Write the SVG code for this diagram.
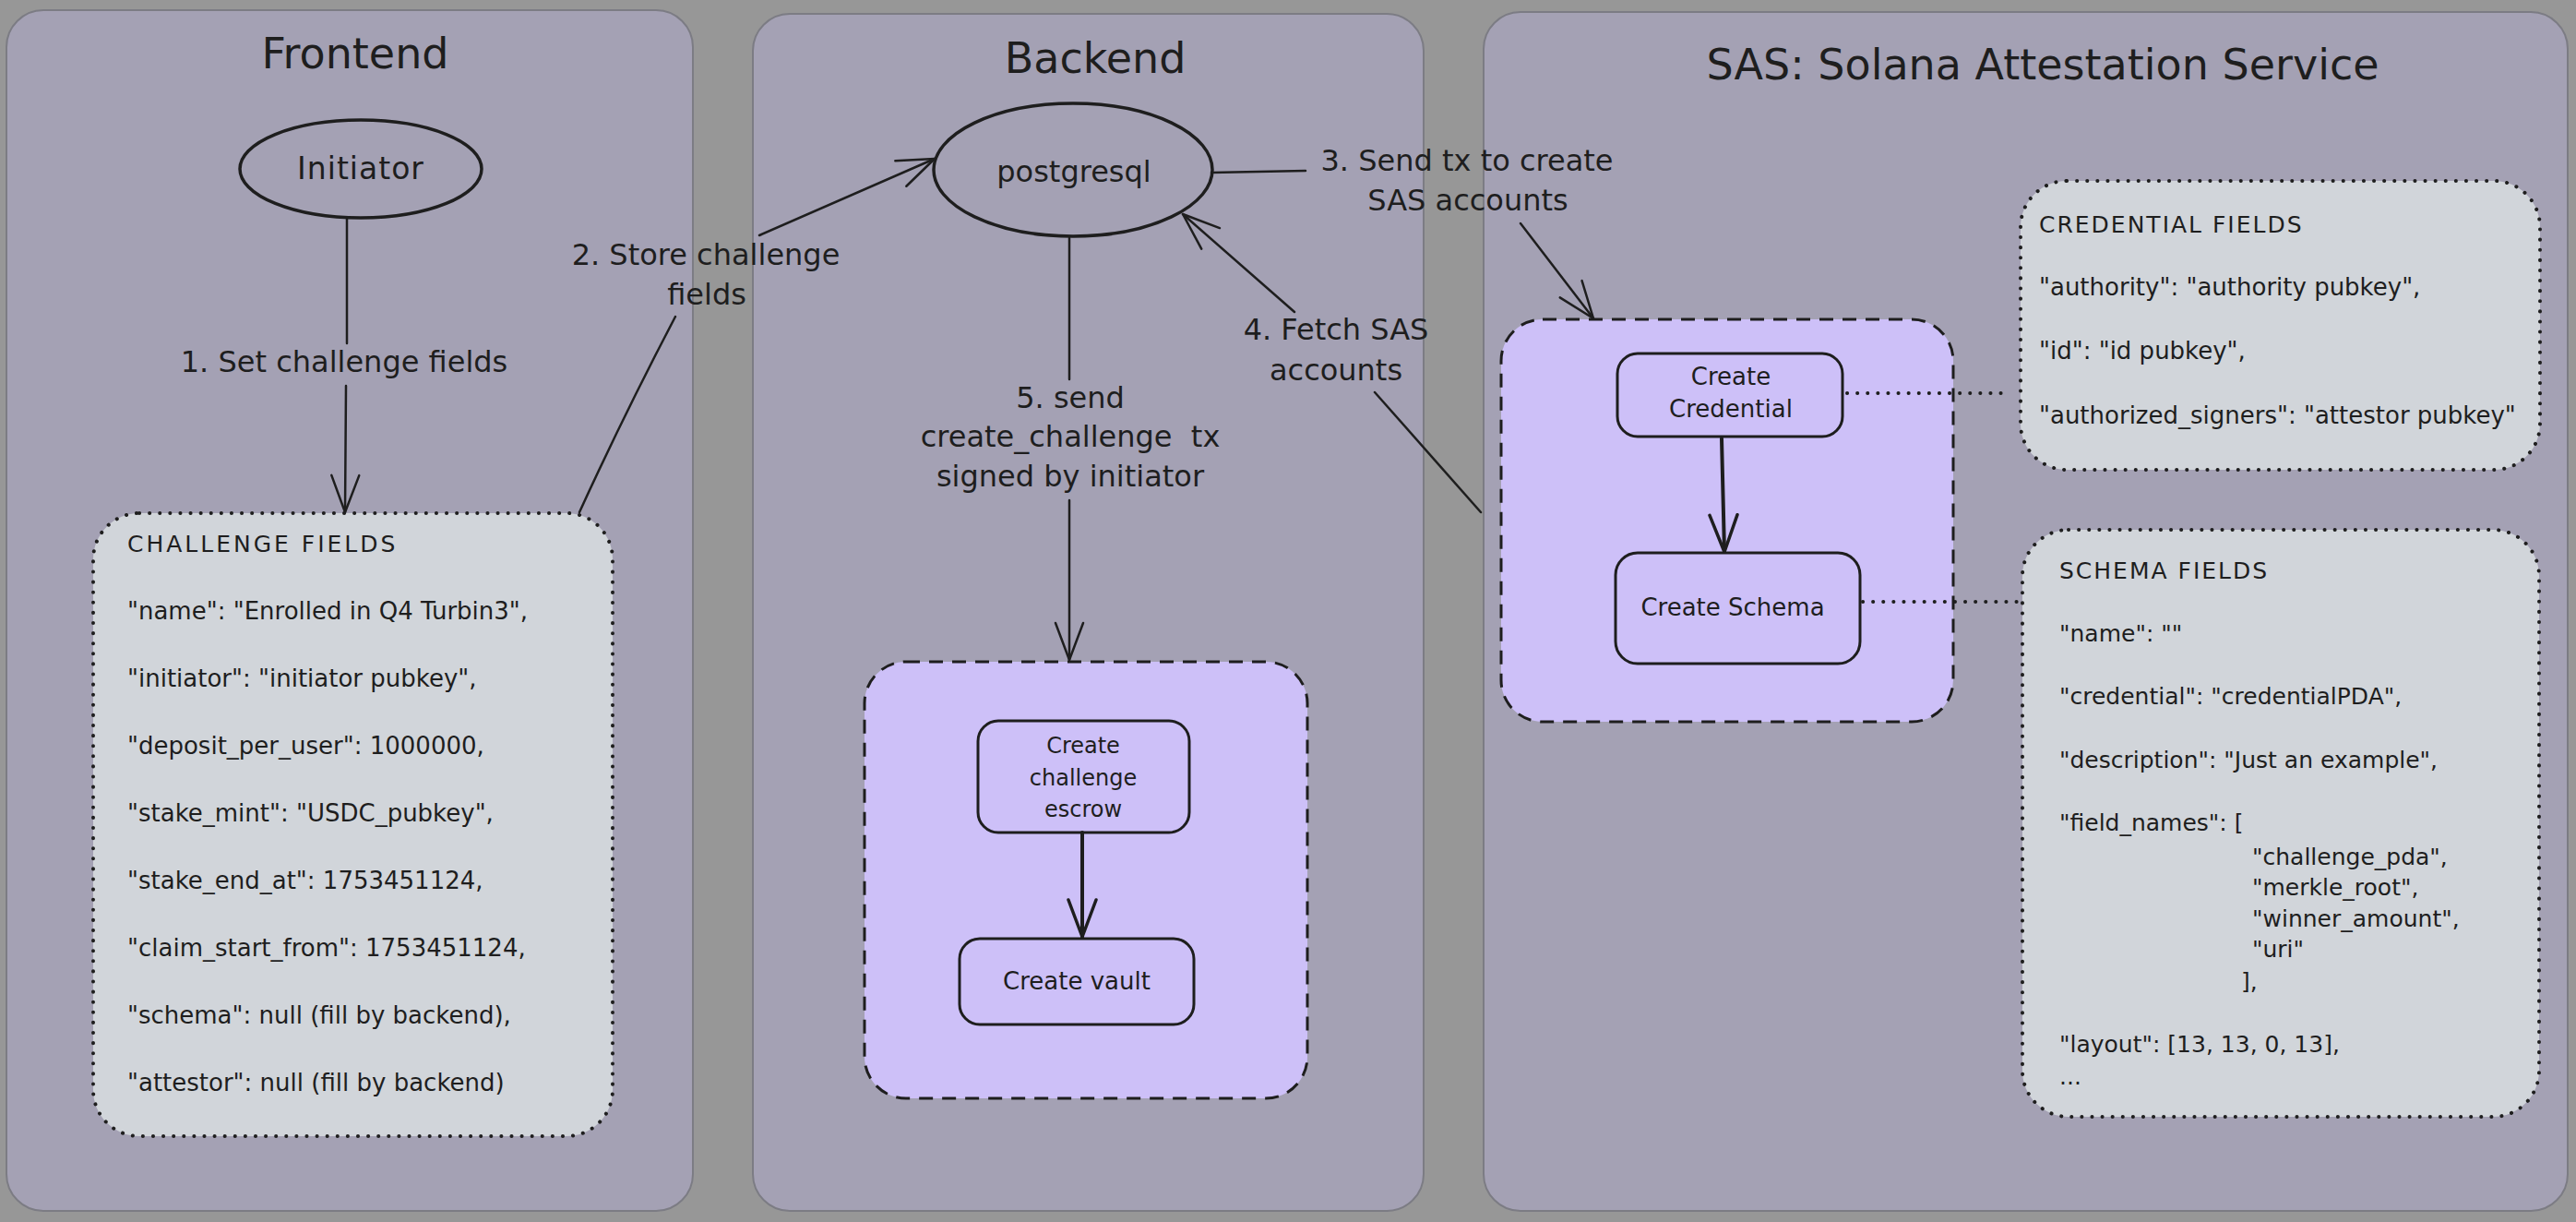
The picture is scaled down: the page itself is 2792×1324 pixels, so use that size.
<svg xmlns="http://www.w3.org/2000/svg" width="2792" height="1324" viewBox="0 0 2792 1324">
<style>
text{font-family:"DejaVu Sans","Liberation Sans",sans-serif;fill:#1e1e1e}
.panel{fill:#a4a1b4;stroke:#7c7c84;stroke-width:2}
.title{font-size:46px;text-anchor:middle}
.fields{fill:#d1d5da;stroke:#1e1e1e;stroke-width:4;stroke-dasharray:0.1 11;stroke-linecap:round}
.group{fill:#cdc0f8;stroke:#1e1e1e;stroke-width:3;stroke-dasharray:15 10}
.node{fill:none;stroke:#1e1e1e;stroke-width:3}
.ell{fill:none;stroke:#1e1e1e;stroke-width:3.5}
.ft{font-size:26px}
.hd{font-size:25px;letter-spacing:3px}
.st{font-size:25px}
.nt{font-size:26px;text-anchor:middle}
.lbl{font-size:32px;text-anchor:middle}
.c{fill:none;stroke:#1e1e1e;stroke-width:2.5;stroke-linecap:round}
.cb{fill:none;stroke:#1e1e1e;stroke-width:4;stroke-linecap:round}
.dot{fill:none;stroke:#1e1e1e;stroke-width:4;stroke-dasharray:0.1 11;stroke-linecap:round}
</style>
<defs>
<marker id="ah" markerUnits="userSpaceOnUse" viewBox="0 0 44 34" markerWidth="44" markerHeight="34" refX="42" refY="17" orient="auto"><path d="M2,2 L42,17 L2,32" fill="none" stroke="#1e1e1e" stroke-width="2.5" stroke-linecap="round" stroke-linejoin="round"/></marker>
<marker id="ahb" markerUnits="userSpaceOnUse" viewBox="0 0 44 34" markerWidth="44" markerHeight="34" refX="42" refY="17" orient="auto"><path d="M2,2 L42,17 L2,32" fill="none" stroke="#1e1e1e" stroke-width="3.5" stroke-linecap="round" stroke-linejoin="round"/></marker>
</defs>
<rect x="0" y="0" width="2792" height="1324" fill="#979797"/>

<g id="panel-frontend">
<rect class="panel" x="7" y="11" width="744" height="1301" rx="40"/>
<text class="title" x="385" y="74">Frontend</text>
</g>
<g id="panel-backend">
<rect class="panel" x="816" y="15" width="727" height="1297" rx="40"/>
<text class="title" x="1187" y="79">Backend</text>
</g>
<g id="panel-sas">
<rect class="panel" x="1608" y="13" width="1175" height="1299" rx="40"/>
<text class="title" x="2214" y="86">SAS: Solana Attestation Service</text>
</g>

<g id="initiator">
<ellipse class="ell" cx="391" cy="183" rx="131" ry="53"/>
<text x="391" y="194" style="font-size:33px;text-anchor:middle;letter-spacing:1px">Initiator</text>
</g>

<g id="challenge-fields">
<rect class="fields" x="101" y="556" width="563" height="675" rx="50"/>
<text class="hd" x="138" y="598">CHALLENGE FIELDS</text>
<text class="ft" x="138" y="671">"name": "Enrolled in Q4 Turbin3",</text>
<text class="ft" x="138" y="744">"initiator": "initiator pubkey",</text>
<text class="ft" x="138" y="817">"deposit_per_user": 1000000,</text>
<text class="ft" x="138" y="890">"stake_mint": "USDC_pubkey",</text>
<text class="ft" x="138" y="963">"stake_end_at": 1753451124,</text>
<text class="ft" x="138" y="1036">"claim_start_from": 1753451124,</text>
<text class="ft" x="138" y="1109">"schema": null (fill by backend),</text>
<text class="ft" x="138" y="1182">"attestor": null (fill by backend)</text>
</g>

<g id="postgresql">
<ellipse class="ell" cx="1163" cy="184" rx="151" ry="72"/>
<text x="1164" y="197" style="font-size:32px;text-anchor:middle">postgresql</text>
</g>

<g id="backend-group">
<rect class="group" x="937" y="717" width="480" height="473" rx="45"/>
</g>
<g id="create-escrow">
<rect class="node" x="1060" y="781" width="229" height="121" rx="22"/>
<text x="1174" y="816" style="font-size:24px;text-anchor:middle">Create</text>
<text x="1174" y="851" style="font-size:24px;text-anchor:middle">challenge</text>
<text x="1174" y="885" style="font-size:24px;text-anchor:middle">escrow</text>
</g>
<g id="create-vault">
<rect class="node" x="1040" y="1017" width="254" height="93" rx="22"/>
<text class="nt" x="1167" y="1072">Create vault</text>
</g>

<g id="sas-group">
<rect class="group" x="1627" y="346" width="490" height="436" rx="45"/>
</g>
<g id="create-credential">
<rect class="node" x="1753" y="383" width="244" height="90" rx="22"/>
<text class="nt" x="1876" y="417">Create</text>
<text class="nt" x="1876" y="452">Credential</text>
</g>
<g id="create-schema">
<rect class="node" x="1751" y="599" width="265" height="120" rx="24"/>
<text class="nt" x="1878" y="667">Create Schema</text>
</g>

<g id="credential-fields">
<rect class="fields" x="2190" y="196" width="563" height="313" rx="50"/>
<text x="2210" y="252" style="font-size:25px;letter-spacing:2px">CREDENTIAL FIELDS</text>
<text class="ft" x="2210" y="320">"authority": "authority pubkey",</text>
<text class="ft" x="2210" y="389">"id": "id pubkey",</text>
<text class="ft" x="2210" y="459">"authorized_signers": "attestor pubkey"</text>
</g>

<g id="schema-fields">
<rect class="fields" x="2192" y="574" width="560" height="636" rx="50"/>
<text x="2232" y="627" style="font-size:25px;letter-spacing:2px">SCHEMA FIELDS</text>
<text class="st" x="2232" y="695">"name": ""</text>
<text class="st" x="2232" y="763">"credential": "credentialPDA",</text>
<text class="st" x="2232" y="832">"description": "Just an example",</text>
<text class="st" x="2232" y="900">"field_names": [</text>
<text class="st" x="2441" y="937">"challenge_pda",</text>
<text class="st" x="2441" y="970">"merkle_root",</text>
<text class="st" x="2441" y="1004">"winner_amount",</text>
<text class="st" x="2441" y="1037">"uri"</text>
<text class="st" x="2429" y="1072">],</text>
<text class="st" x="2232" y="1140">"layout": [13, 13, 0, 13],</text>
<text class="st" x="2232" y="1175">...</text>
</g>

<g id="connectors">
<path class="c" d="M376,237 L376,372"/>
<path class="c" d="M375,418 L374,555" marker-end="url(#ah)"/>
<text class="lbl" x="373" y="403">1. Set challenge fields</text>

<path class="c" d="M628,555 Q676,450 732,343"/>
<path class="c" d="M823,255 L1013,172" marker-end="url(#ah)"/>
<text class="lbl" x="765" y="287">2. Store challenge</text>
<text class="lbl" x="766" y="330">fields</text>

<path class="c" d="M1313,187 L1415,185"/>
<path class="c" d="M1648,242 L1727,345" marker-end="url(#ah)"/>
<text class="lbl" x="1590" y="185">3. Send tx to create</text>
<text class="lbl" x="1591" y="228">SAS accounts</text>

<path class="c" d="M1605,555 L1490,425"/>
<path class="c" d="M1403,338 L1282,232" marker-end="url(#ah)"/>
<text class="lbl" x="1448" y="368">4. Fetch SAS</text>
<text class="lbl" x="1448" y="412">accounts</text>

<path class="c" d="M1159,258 L1159,411"/>
<path class="c" d="M1159,542 L1159,715" marker-end="url(#ah)"/>
<text class="lbl" x="1160" y="442">5. send</text>
<text class="lbl" x="1160" y="484" xml:space="preserve">create_challenge  tx</text>
<text class="lbl" x="1160" y="527">signed by initiator</text>

<path class="cb" d="M1173,902 L1173,1015" marker-end="url(#ahb)"/>
<path class="cb" d="M1866,475 L1869,598" marker-end="url(#ahb)"/>

<path class="dot" d="M2002,426 L2172,426"/>
<path class="dot" d="M2019,652 L2190,652"/>
</g>
</svg>
